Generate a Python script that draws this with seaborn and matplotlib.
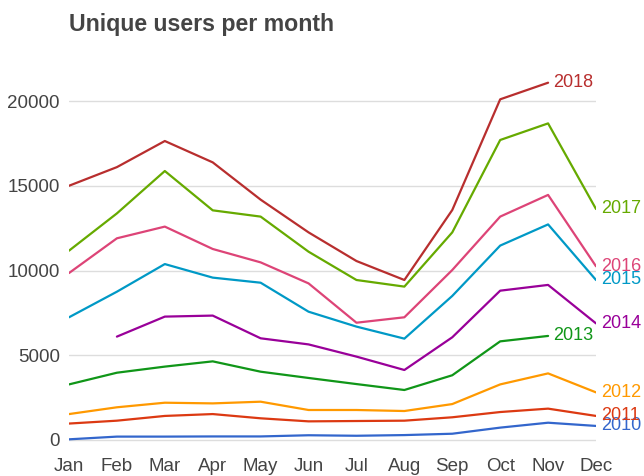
import matplotlib
matplotlib.use("Agg")
import matplotlib.pyplot as plt
import seaborn as sns
import pandas as pd
import numpy as np

months = ["Jan", "Feb", "Mar", "Apr", "May", "Jun", "Jul", "Aug", "Sep", "Oct", "Nov", "Dec"]
nan = np.nan
y2010 = [40, 200, 200, 210, 210, 280, 250, 290, 370, 730, 1020, 830]
y2011 = [970, 1140, 1420, 1530, 1280, 1100, 1120, 1140, 1340, 1650, 1850, 1420]
y2012 = [1530, 1930, 2200, 2160, 2260, 1770, 1770, 1710, 2120, 3280, 3930, 2810]
y2013 = [3280, 3970, 4330, 4640, 4030, 3660, 3300, 2950, 3820, 5820, 6140, nan]
y2014 = [nan, 6100, 7280, 7340, 6000, 5640, 4920, 4130, 6060, 8810, 9150, 6880]
y2015 = [7240, 8750, 10380, 9580, 9280, 7570, 6690, 5980, 8500, 11470, 12720, 9440]
y2016 = [9850, 11900, 12590, 11270, 10480, 9240, 6920, 7240, 10030, 13180, 14460, 10250]
y2017 = [11170, 13370, 15870, 13550, 13180, 11110, 9440, 9050, 12250, 17700, 18680, 13630]
y2018 = [15000, 16100, 17640, 16380, 14180, 12250, 10560, 9440, 13570, 20100, 21080, nan]

years = ["2010", "2011", "2012", "2013", "2014", "2015", "2016", "2017", "2018"]
series = [y2010, y2011, y2012, y2013, y2014, y2015, y2016, y2017, y2018]
colors = ["#3366cc", "#dc3912", "#ff9900", "#109618", "#990099",
          "#0099c6", "#dd4477", "#66aa00", "#b82e2e"]

rows = []
for yr, vals in zip(years, series):
    for i, (m, v) in enumerate(zip(months, vals)):
        rows.append({"year": yr, "idx": i, "month": m, "users": v})
df = pd.DataFrame(rows)

sns.set_theme(style="white")
plt.rcParams["font.family"] = ["Liberation Sans", "DejaVu Sans"]

fig = plt.figure(figsize=(6.44, 4.76), dpi=100)
ax = fig.add_axes([69 / 644, 26 / 476, (596 - 69) / 644, 380 / 476])

for yr, col in zip(years, colors):
    sub = df[df["year"] == yr].dropna()
    sns.lineplot(data=sub, x="idx", y="users", color=col, linewidth=1.6,
                 ax=ax, legend=False, estimator=None, sort=False)

ax.set_xlim(0, 11)
ax.set_ylim(-590, 21830)
ax.set_yticks([0, 5000, 10000, 15000, 20000])
ax.set_yticklabels(["0", "5000", "10000", "15000", "20000"])
ax.set_xticks(range(12))
ax.set_xticklabels(months)
for s in ax.spines.values():
    s.set_visible(False)
ax.grid(axis="y", color="#dddddd", linewidth=1)
ax.set_axisbelow(True)
ax.tick_params(axis="both", length=0, labelsize=13.5, colors="#444444")
ax.tick_params(axis="y", pad=6.5)
ax.tick_params(axis="x", pad=6)
ax.set_xlabel("")
ax.set_ylabel("")

# end labels
for yr, vals, col in zip(years, series, colors):
    last = max(i for i, v in enumerate(vals) if not np.isnan(v))
    ax.text(last + 0.1, vals[last], yr, color=col, fontsize=13,
            va="center", ha="left", clip_on=False)

fig.text(69 / 644, 1 - 25 / 476, "Unique users per month", fontsize=16.7,
         fontweight="bold", color="#444444", ha="left", va="center")

fig.savefig("out.png", dpi=100)
